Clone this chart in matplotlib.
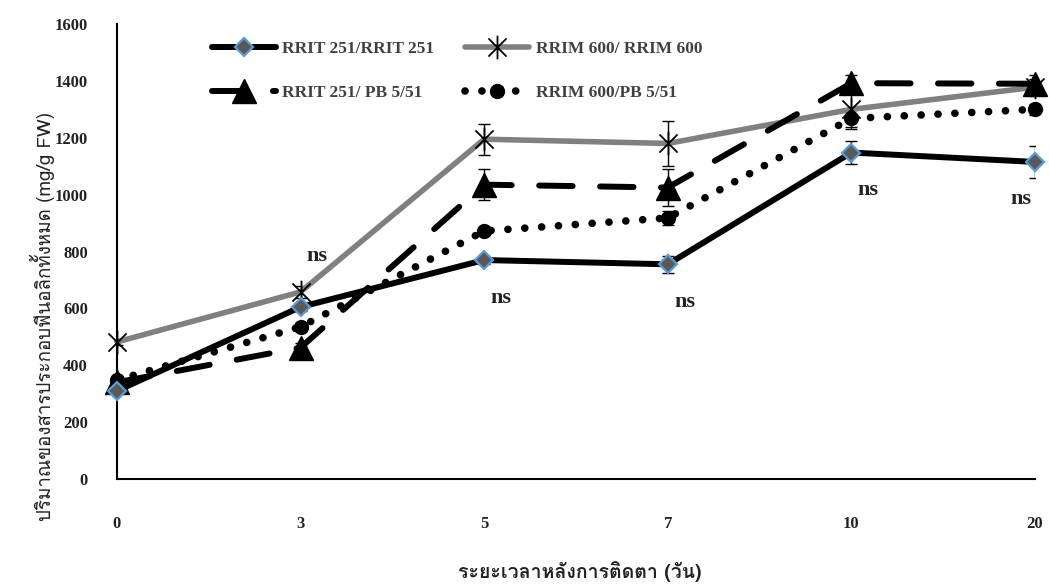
import matplotlib
matplotlib.use('Agg')
import matplotlib.pyplot as plt
import numpy as np
from matplotlib import font_manager
from matplotlib.ft2font import FT2Font
from matplotlib.path import Path

# Days after budding and total phenolic content (mg/g FW)
days = ['0', '3', '5', '7', '10', '20']
rrit_rrit = [310, 605, 770, 755, 1148, 1115]
rrim_rrim = [482, 658, 1195, 1180, 1300, 1378]
rrit_pb = [340, 462, 1035, 1025, 1392, 1390]
rrim_pb = [348, 535, 872, 918, 1268, 1300]

rrit_rrit_err = [10, 15, 15, 30, 40, 55]
rrim_rrim_err = [10, 20, 55, 80, 70, 30]
rrit_pb_err = [10, 15, 55, 65, 30, 30]
rrim_pb_err = [10, 15, 15, 25, 30, 20]

series_labels = ['RRIT 251/RRIT 251', 'RRIM 600/ RRIM 600',
                 'RRIT 251/ PB 5/51', 'RRIM 600/PB 5/51']
ns_days = [1, 2, 3, 4, 5]
x_title = 'ระยะเวลาหลังการติดตา (วัน)'
y_title = 'ปริมาณของสารประกอบฟีนอลิกทั้งหมด (mg/g FW)'


def thai_family():
    """Return the first installed family that has Thai glyphs."""
    for f in font_manager.fontManager.ttflist:
        try:
            if 0x0E1B in FT2Font(f.fname).get_charmap():
                return f.name
        except Exception:
            pass
    return 'DejaVu Sans'


thai = thai_family()
plt.rcParams['font.family'] = ['Liberation Serif', 'DejaVu Serif']

# asterisk marker: an x with a vertical stroke
star = Path([(-1, -1), (1, 1), (-1, 1), (1, -1), (0, -1.3), (0, 1.3)],
            [Path.MOVETO, Path.LINETO, Path.MOVETO, Path.LINETO,
             Path.MOVETO, Path.LINETO])

fig = plt.figure(figsize=(10.49, 5.86), dpi=100)
ax = fig.add_axes([0.1115, 0.1826, 0.8752, 0.7764])
x = np.arange(len(days))

err_kw = dict(ecolor='black', elinewidth=1, capsize=4, capthick=1)

ax.errorbar(x, rrim_rrim, yerr=rrim_rrim_err, fmt='none', zorder=1, **err_kw)
ax.errorbar(x, rrit_pb, yerr=rrit_pb_err, fmt='none', zorder=1, **err_kw)
ax.errorbar(x, rrim_pb, yerr=rrim_pb_err, fmt='none', zorder=1, **err_kw)
ax.errorbar(x, rrit_rrit, yerr=rrit_rrit_err, fmt='none', zorder=1, **err_kw)

l1, = ax.plot(x, rrit_rrit, color='black', lw=4.3, marker='D', ms=9,
              mfc='#595959', mec='#5B9BD5', mew=1.6, zorder=4,
              solid_capstyle='round', clip_on=False)
l2, = ax.plot(x, rrim_rrim, color='#808080', lw=4, marker=star, ms=17,
              mfc='none', mec='black', mew=1.3, zorder=2,
              solid_capstyle='round', clip_on=False)
l3, = ax.plot(x, rrit_pb, color='black', lw=4.3, ls=(0, (5.6, 4.6)),
              dash_capstyle='round', marker='^', ms=17, mfc='black',
              mec='black', zorder=3, clip_on=False)
l4, = ax.plot(x, rrim_pb, color='black', lw=5.5, ls=(0, (0.01, 2.2)),
              dash_capstyle='round', marker='o', ms=10, mfc='black',
              mec='black', zorder=3, clip_on=False)

# "ns" marks: above the lines at day 3, below the solid line elsewhere
for i in ns_days:
    if i == 1:
        dx, dy = 12, 37
    elif i == len(days) - 1:
        dx, dy = -10, -27
    else:
        dx, dy = 12, -27
    ax.annotate('ns', (x[i], rrit_rrit[i]), xytext=(dx, dy),
                textcoords='offset points', ha='center', va='center',
                fontsize=16, fontweight='bold', color='#222222')

ax.set_xlim(0, len(days) - 1)
ax.set_ylim(0, 1600)
ax.set_xticks(x)
ax.set_xticklabels(days)
ax.set_yticks(np.arange(0, 1601, 200))
ax.tick_params(length=0, labelsize=12, labelcolor='#222222')
ax.tick_params(axis='x', pad=27)
ax.tick_params(axis='y', pad=21)
for t in ax.get_xticklabels() + ax.get_yticklabels():
    t.set_fontweight('bold')

for side in ['top', 'right']:
    ax.spines[side].set_visible(False)
for side in ['left', 'bottom']:
    ax.spines[side].set_linewidth(1.5)
    ax.spines[side].set_color('black')

fig.text(0.553, 0.006, x_title, ha='center', va='bottom', fontsize=14,
         fontweight='bold', family=[thai, 'DejaVu Sans'], color='#222222')
fig.text(0.04, 0.46, y_title, ha='center', va='center', rotation=90,
         fontsize=13.5, family=[thai, 'DejaVu Sans'], color='#222222')

# legend is filled column by column, so interleave to get two rows
leg = ax.legend([l1, l3, l2, l4],
                [series_labels[0], series_labels[2],
                 series_labels[1], series_labels[3]],
                ncol=2, loc='upper left', bbox_to_anchor=(0.086, 0.997),
                frameon=False, handlelength=3.7, handletextpad=0.35,
                columnspacing=1.8, labelspacing=1.6,
                prop={'family': 'Liberation Serif', 'weight': 'bold',
                      'size': 12.5})
for t in leg.get_texts():
    t.set_color('#404040')

fig.savefig('out.png', dpi=100)
